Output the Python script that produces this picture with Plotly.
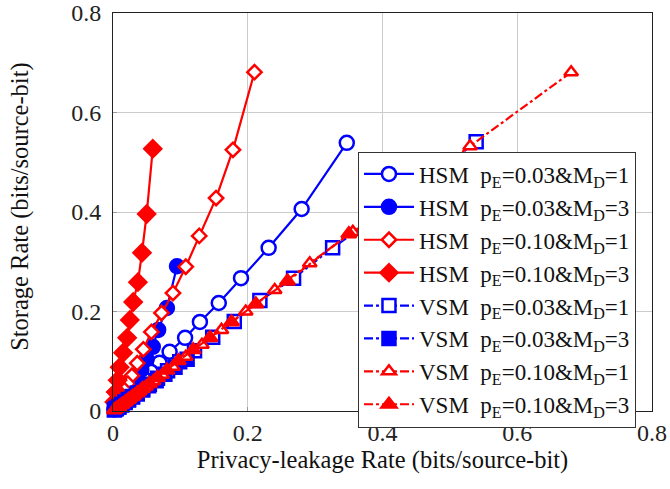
import plotly.graph_objects as go

# ---------------- data ----------------
hsm_03_1_x = [0.347, 0.280, 0.231, 0.190, 0.157, 0.129, 0.107, 0.084, 0.069, 0.056, 0.046, 0.037, 0.030, 0.024, 0.019, 0.015, 0.011, 0.008, 0.005, 0.002]
hsm_03_1_y = [0.539, 0.406, 0.328, 0.267, 0.217, 0.179, 0.147, 0.119, 0.097, 0.079, 0.064, 0.052, 0.042, 0.033, 0.026, 0.021, 0.015, 0.011, 0.007, 0.003]

hsm_03_3_x = [0.095, 0.080, 0.067, 0.059, 0.050, 0.042, 0.035, 0.029, 0.024, 0.019, 0.015, 0.012, 0.009, 0.006, 0.003]
hsm_03_3_y = [0.291, 0.207, 0.163, 0.129, 0.104, 0.083, 0.067, 0.054, 0.043, 0.034, 0.027, 0.021, 0.016, 0.011, 0.005]

hsm_10_1_x = [0.210, 0.178, 0.153, 0.128, 0.108, 0.089, 0.072, 0.057, 0.045, 0.036, 0.028, 0.022, 0.017, 0.013, 0.009, 0.006, 0.003]
hsm_10_1_y = [0.681, 0.525, 0.428, 0.352, 0.290, 0.237, 0.197, 0.159, 0.124, 0.096, 0.071, 0.055, 0.042, 0.032, 0.023, 0.015, 0.007]

hsm_10_3_x = [0.059, 0.050, 0.043, 0.037, 0.030, 0.025, 0.021, 0.015, 0.010, 0.007, 0.004, 0.002]
hsm_10_3_y = [0.527, 0.396, 0.318, 0.259, 0.219, 0.183, 0.147, 0.117, 0.088, 0.062, 0.038, 0.018]

vsm_03_1_x = [0.539, 0.470, 0.395, 0.326, 0.268, 0.218, 0.180, 0.148, 0.121, 0.099, 0.081, 0.066, 0.054, 0.044, 0.036, 0.029, 0.023, 0.018, 0.013, 0.008, 0.004]
vsm_03_1_y = [0.541, 0.468, 0.394, 0.328, 0.267, 0.222, 0.180, 0.148, 0.121, 0.099, 0.081, 0.066, 0.054, 0.044, 0.036, 0.029, 0.023, 0.018, 0.013, 0.008, 0.004]

vsm_03_3_x = [0.110, 0.092, 0.077, 0.064, 0.053, 0.044, 0.036, 0.029, 0.023, 0.018, 0.013, 0.009, 0.005, 0.002]
vsm_03_3_y = [0.104, 0.088, 0.074, 0.061, 0.051, 0.042, 0.034, 0.028, 0.022, 0.017, 0.012, 0.008, 0.005, 0.002]

vsm_10_1_x = [0.680, 0.530, 0.435, 0.356, 0.292, 0.240, 0.197, 0.161, 0.132, 0.108, 0.089, 0.073, 0.060, 0.049, 0.040, 0.032, 0.026, 0.020, 0.015, 0.010, 0.005]
vsm_10_1_y = [0.681, 0.532, 0.437, 0.360, 0.297, 0.243, 0.200, 0.163, 0.133, 0.109, 0.089, 0.073, 0.060, 0.049, 0.040, 0.032, 0.026, 0.020, 0.015, 0.010, 0.005]

vsm_10_3_x = [0.350, 0.259, 0.212, 0.176, 0.144, 0.119, 0.097, 0.080, 0.066, 0.054, 0.044, 0.036, 0.029, 0.023, 0.018, 0.013, 0.009, 0.005, 0.002]
vsm_10_3_y = [0.356, 0.261, 0.215, 0.179, 0.147, 0.123, 0.101, 0.082, 0.067, 0.055, 0.045, 0.036, 0.029, 0.023, 0.018, 0.013, 0.009, 0.005, 0.002]

labels = [
    "HSM  p<sub>E</sub>=0.03&amp;M<sub>D</sub>=1",
    "HSM  p<sub>E</sub>=0.03&amp;M<sub>D</sub>=3",
    "HSM  p<sub>E</sub>=0.10&amp;M<sub>D</sub>=1",
    "HSM  p<sub>E</sub>=0.10&amp;M<sub>D</sub>=3",
    "VSM  p<sub>E</sub>=0.03&amp;M<sub>D</sub>=1",
    "VSM  p<sub>E</sub>=0.03&amp;M<sub>D</sub>=3",
    "VSM  p<sub>E</sub>=0.10&amp;M<sub>D</sub>=1",
    "VSM  p<sub>E</sub>=0.10&amp;M<sub>D</sub>=3",
]
tick_vals = [0, 0.2, 0.4, 0.6, 0.8]
tick_text = ["0", "0.2", "0.4", "0.6", "0.8"]
x_title = "Privacy-leakage Rate (bits/source-bit)"
y_title = "Storage Rate (bits/source-bit)"

BLUE = "#0000ff"
RED = "#ff0000"
FONT = "Liberation Serif"

series = [
    (hsm_03_1_x, hsm_03_1_y, BLUE, "solid", "circle", "white", 14),
    (hsm_03_3_x, hsm_03_3_y, BLUE, "solid", "circle", BLUE, 14),
    (hsm_10_1_x, hsm_10_1_y, RED, "solid", "diamond", "white", 11),
    (hsm_10_3_x, hsm_10_3_y, RED, "solid", "diamond", RED, 13),
    (vsm_03_1_x, vsm_03_1_y, BLUE, "dashdot", "square", "white", 13),
    (vsm_03_3_x, vsm_03_3_y, BLUE, "dashdot", "square", BLUE, 13),
    (vsm_10_1_x, vsm_10_1_y, RED, "dashdot", "triangle-up", "white", 12),
    (vsm_10_3_x, vsm_10_3_y, RED, "dashdot", "triangle-up", RED, 13),
]

fig = go.Figure()
for i, (xs, ys, col, dash, sym, fill, size) in enumerate(series):
    fig.add_trace(go.Scatter(
        x=xs, y=ys, mode="lines+markers", name=labels[i],
        legendgroup=str(i),
        line=dict(color=col, width=2.2, dash=dash),
        marker=dict(symbol=sym, size=size, color=fill, line=dict(color=col, width=2.5)),
        cliponaxis=False,
    ))

axis_common = dict(
    range=[0, 0.8], tickvals=tick_vals, ticktext=tick_text,
    showgrid=True, gridcolor="#cccccc", gridwidth=1,
    showline=True, linecolor="#222222", linewidth=1, mirror=True,
    ticks="inside", ticklen=4, tickcolor="#999999",
    zeroline=False, automargin=False, ticklabeloverflow="allow",
    tickfont=dict(family=FONT, size=24, color="#222222"),
)

fig.update_layout(
    width=670, height=489,
    margin=dict(l=113, r=18, t=13, b=78),
    paper_bgcolor="white", plot_bgcolor="white",
    font=dict(family=FONT, size=22, color="#111111"),
    xaxis=dict(**axis_common, ticklabelstandoff=0,
               title=dict(text=x_title, font=dict(family=FONT, size=24.5), standoff=2)),
    yaxis=dict(**axis_common, ticklabelstandoff=6),
    legend=dict(
        x=0.4545, y=0.652, xanchor="left", yanchor="top",
        bgcolor="white", bordercolor="#333333", borderwidth=1,
        font=dict(family=FONT, size=23, color="#111111"),
        tracegroupgap=0, itemwidth=50,
    ),
    showlegend=True,
    annotations=[dict(
        text=y_title, textangle=-90, showarrow=False,
        xref="paper", yref="paper", x=-0.1725, y=0.513,
        xanchor="center", yanchor="middle",
        font=dict(family=FONT, size=24.5, color="#111111"),
    )],
)

fig.write_html("out.html", config={"displayModeBar": False},
               post_script="document.body.style.margin='0px';")
